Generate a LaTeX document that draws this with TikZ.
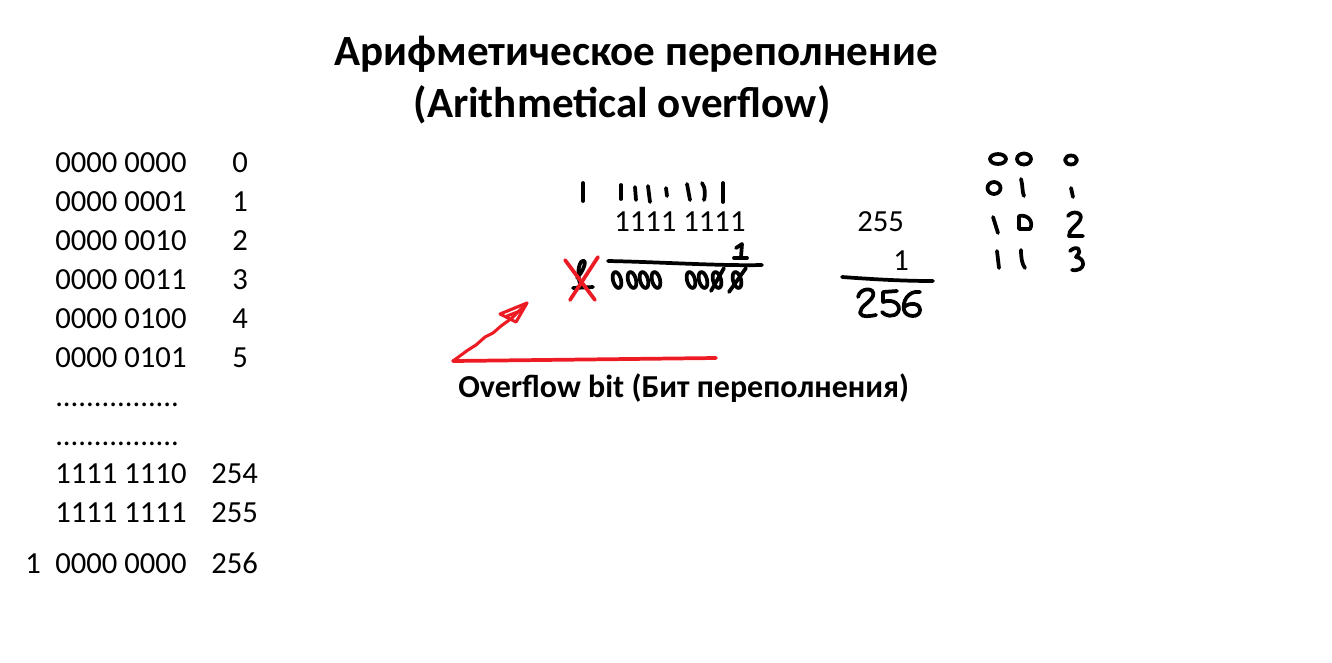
\documentclass[tikz,border=0pt]{standalone}
\usepackage{fontspec}
\setmainfont{Carlito}
\definecolor{pred}{RGB}{237,28,36}
\begin{document}
\begin{tikzpicture}[x=0.75pt,y=-0.75pt,
  txt/.style={inner sep=0pt,anchor=base west,font=\fontsize{23}{27}\selectfont},
  ttl/.style={inner sep=0pt,anchor=base,font=\fontsize{32.3}{38}\selectfont\bfseries},
  lbl/.style={inner sep=0pt,anchor=base west,font=\fontsize{24}{28}\selectfont\bfseries},
  hand/.style={line width=2.8pt,line cap=round,line join=round},
  rhand/.style={hand,draw=pred}]
\useasboundingbox (0,0) rectangle (1332,662);
% title
\node[ttl] (t1) at (636,65) {Арифметическое переполнение};
\node[ttl] (t2) at (622,117) {(Arithmetical overflow)};
% left table
\node[txt] (b0) at (55,172) {0000 0000};
\node[txt] (b1) at (55,211) {0000 0001};
\node[txt] (b2) at (55,250) {0000 0010};
\node[txt] (b3) at (55,289) {0000 0011};
\node[txt] (b4) at (55,328) {0000 0100};
\node[txt] (b5) at (55,367) {0000 0101};
\node[txt] (d1) at (55,406) {................};
\node[txt] (d2) at (55,445) {................};
\node[txt] (b254) at (55,483) {1111 1110};
\node[txt] (b255) at (55,522) {1111 1111};
\node[txt] (b256) at (55,573) {0000 0000};
\node[txt] (c1) at (25,573) {1};
\node[txt] (n0) at (232,172) {0};
\node[txt] (n1) at (232,211) {1};
\node[txt] (n2) at (232,250) {2};
\node[txt] (n3) at (232,289) {3};
\node[txt] (n4) at (232,328) {4};
\node[txt] (n5) at (232,367) {5};
\node[txt] (n254) at (211,483) {254};
\node[txt] (n255) at (211,522) {255};
\node[txt] (n256) at (211,573) {256};
% middle addition
\node[txt] (a) at (614,231) {1111 1111};
\node[txt] (r255) at (857,231) {255};
\node[txt] (r1) at (893,270) {1};
% carry strokes
\draw[hand] (583,183) -- (583,201);
\draw[hand] (621,185) -- (621,199);
\draw[hand] (635,187) -- (636,200);
\draw[hand] (648,186) -- (650,202);
\draw[hand] (666,188) -- (667,196);
\draw[hand] (687,184) -- (690,200);
\draw[hand] (702,183) .. controls (706,188) and (705,196) .. (704,200);
\draw[hand] (723,183) -- (723,202);
% handwritten 1 above line
\draw[hand] (736,248) -- (742,244) -- (741,257);
\draw[hand] (734,258) -- (747,258);
% sum line
\draw[hand] (608,261) .. controls (660,262) and (720,266) .. (762,265);
% handwritten result zeros
\foreach \cx in {617,632,644,656,691,703,717,737}
  \draw[hand] (\cx,280) ellipse[x radius=4,y radius=8.2,rotate=15];
\draw[hand] (711,291) -- (724,268);
\draw[hand] (729,292) -- (746,268);
% crossed carry
\draw[hand] (577,278) .. controls (586,268) and (587,257) .. (581,262) .. controls (577,268) and (578,280) .. (581,286);
\draw[hand] (573,288) -- (593,287);
\draw[rhand] (565,260) -- (595,300);
\draw[rhand] (598,257) -- (570,300);
% red arrow
\coordinate (ab) at (453,361);
\coordinate (at) at (527,303);
\coordinate (ae) at (716,358);
\draw[rhand] (ab) -- (ae);
\draw[rhand,line width=2.3pt] (ab) -- (468,350) -- (476,345) -- (485,337) -- (493,333) -- (501,326) -- (512,318) -- (at);
\draw[rhand,line width=2.3pt] (at) -- (500,314) -- (516,322) -- cycle;
\draw[rhand,line width=2.3pt] (507,316) -- (520,311);
\node[lbl] (ov) at (458,397) {Overflow bit (Бит переполнения)};
% right sum
\draw[hand] (842,277) .. controls (870,279) and (900,281) .. (933,281);
\draw[hand] (858,297) .. controls (860,287) and (876,287) .. (873,296) .. controls (870,303) and (860,306) .. (860,313) .. controls (862,318) and (870,316) .. (876,315);
\draw[hand] (897,291) -- (883,292) -- (883,302) .. controls (893,298) and (902,305) .. (898,312) .. controls (894,318) and (885,316) .. (882,312);
\draw[hand] (920,292) .. controls (908,290) and (902,302) .. (904,310) .. controls (906,318) and (920,318) .. (920,310) .. controls (920,303) and (910,302) .. (904,307);
% far right table
\draw[hand] (998,159) ellipse[x radius=8,y radius=5];
\draw[hand] (1024,159) ellipse[x radius=7,y radius=5.5];
\draw[hand] (1071,160) ellipse[x radius=6,y radius=4.5];
\draw[hand] (994,188) ellipse[x radius=6.5,y radius=6];
\draw[hand] (1021,179) .. controls (1023,186) and (1022,192) .. (1024,196);
\draw[hand] (1071,188) -- (1073,197);
\draw[hand] (993,217) -- (998,233);
\draw[hand] (1019,216) -- (1019,229) -- (1030,229) .. controls (1034,222) and (1028,214) .. (1019,216);
\draw[hand] (1068,216) .. controls (1072,210) and (1084,212) .. (1080,220) .. controls (1077,226) and (1068,230) .. (1069,236) -- (1083,236);
\draw[hand] (997,251) -- (999,268);
\draw[hand] (1021,250) .. controls (1021,258) and (1022,264) .. (1025,268);
\draw[hand] (1070,251) .. controls (1076,245) and (1084,249) .. (1076,257) .. controls (1086,258) and (1086,272) .. (1072,270);
\end{tikzpicture}
\end{document}
